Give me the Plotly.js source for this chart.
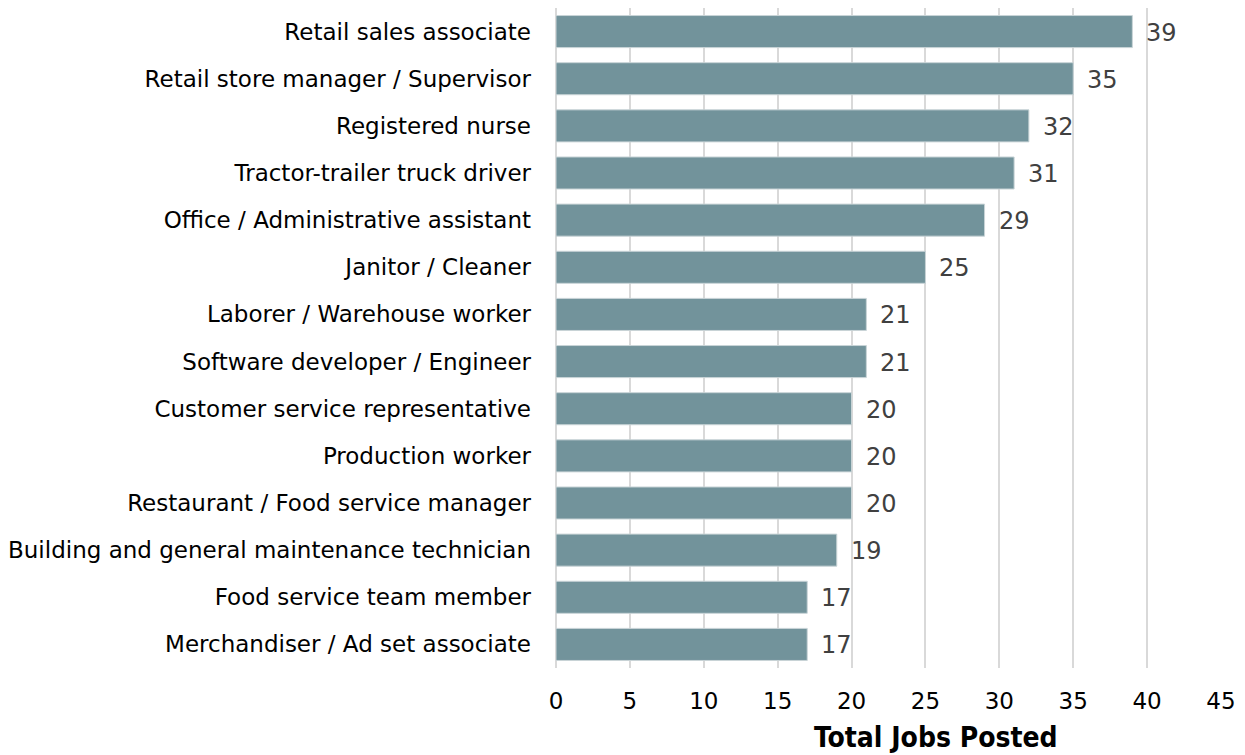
<!DOCTYPE html>
<html><head><meta charset="utf-8">
<script src="https://cdn.plot.ly/plotly-3.0.1.min.js"></script>
<style>html,body{margin:0;padding:0;background:#fff}#chart{width:1245px;height:755px}</style>
</head><body><div id="chart"></div>
<script>
const categories = [
  "Retail sales associate",
  "Retail store manager / Supervisor",
  "Registered nurse",
  "Tractor-trailer truck driver",
  "Office / Administrative assistant",
  "Janitor / Cleaner",
  "Laborer / Warehouse worker",
  "Software developer / Engineer",
  "Customer service representative",
  "Production worker",
  "Restaurant / Food service manager",
  "Building and general maintenance technician",
  "Food service team member",
  "Merchandiser / Ad set associate"
];
const jobsPosted = [39, 35, 32, 31, 29, 25, 21, 21, 20, 20, 20, 19, 17, 17];
const xTicks = [0, 5, 10, 15, 20, 25, 30, 35, 40, 45];
const xTitle = 'Total Jobs Posted';

const trace = {
  type: 'bar', orientation: 'h',
  y: categories, x: jobsPosted,
  marker: {color: '#72939B', line: {color: '#c9d4d7', width: 1}},
  hoverinfo: 'none'
};
const annotations = jobsPosted.map((v, i) => ({
  x: v, y: categories[i], xref: 'x', yref: 'y',
  text: String(v), showarrow: false, xanchor: 'left', yanchor: 'middle', xshift: 12, yshift: -1,
  font: {family: 'DejaVu Sans, sans-serif', size: 24, color: '#404040'}
}));
annotations.push({
  x: 936, y: 737, xref: 'paper', yref: 'paper', text: '<b>' + xTitle + '</b>', showarrow: false,
  xanchor: 'center', yanchor: 'middle',
  font: {family: 'DejaVu Sans Condensed, sans-serif', size: 28, color: '#000'}
});
const layout = {
  width: 1245, height: 755,
  margin: {l: 556, r: 24, t: 8, b: 87},
  paper_bgcolor: '#fff', plot_bgcolor: '#fff',
  showlegend: false,
  bargap: 0.32,
  annotations: annotations,
  xaxis: {
    range: [0, 45], tickvals: xTicks, ticktext: xTicks.map(String),
    showgrid: true, gridcolor: '#d9d9d9', gridwidth: 2, zeroline: true, zerolinecolor: '#d9d9d9', zerolinewidth: 2,
    ticks: '', ticklabelstandoff: 17,
    tickfont: {family: 'DejaVu Sans, sans-serif', size: 23, color: '#000'},
    fixedrange: true
  },
  yaxis: {
    autorange: 'reversed', showgrid: false, zeroline: false, showline: false,
    ticks: '', ticklabelstandoff: 24,
    tickfont: {family: 'DejaVu Sans, sans-serif', size: 23, color: '#000'},
    fixedrange: true
  }
};
// convert title position from pixels to paper fraction
const pw = 1245 - 556 - 24, ph = 755 - 8 - 87;
const t = annotations[annotations.length - 1];
t.x = (t.x - 556) / pw; t.y = (755 - 87 - t.y) / ph;
Plotly.newPlot('chart', [trace], layout, {displayModeBar: false, staticPlot: true});
</script></body></html>
